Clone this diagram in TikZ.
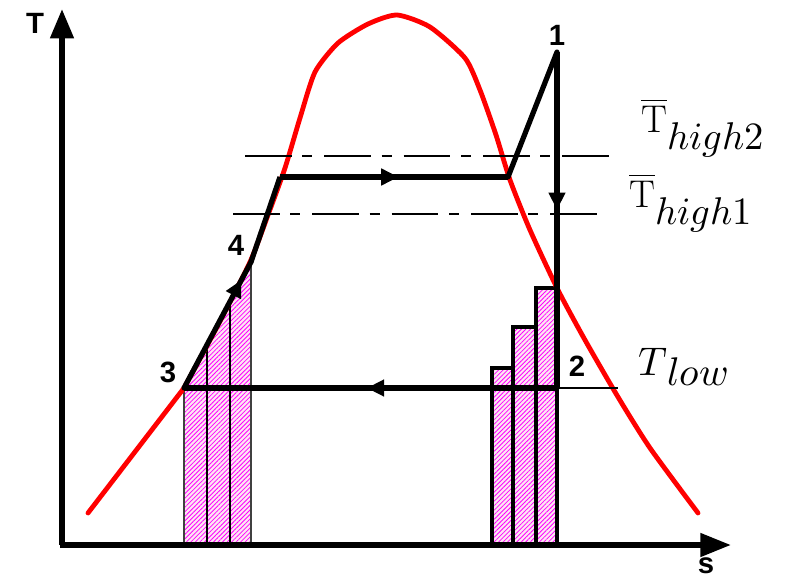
\documentclass[tikz,border=0pt]{standalone}
\usepackage{fontspec}
\usepackage{unicode-math}
\setmathfont{Latin Modern Math}
\setsansfont{Liberation Sans}
\usetikzlibrary{arrows.meta,decorations.markings,patterns.meta,calc}
\begin{document}
\begin{tikzpicture}[x=0.75pt,y=-0.75pt,
  thick line/.style={line width=3.9pt,black},
  redcurve/.style={line width=3.6pt,red,line cap=round,line join=round},
  dashdot line/.style={line width=1.9pt,black,dash pattern=on 35pt off 8pt on 7.5pt off 9pt},
  ptlabel/.style={font=\sffamily\bfseries\fontsize{22}{24}\selectfont,inner sep=0pt},
  midarrow/.style={postaction={decorate},decoration={markings,mark=at position #1 with {\arrow{Triangle[length=13pt,width=12pt]}}}}
]
\useasboundingbox (0,0) rectangle (790,579);
% coordinates
\coordinate (O) at (62,545);
\coordinate (Ox) at (60,545);
\coordinate (ytip) at (62,9);
\coordinate (xtip) at (731,545);
\coordinate (p1) at (557,52);
\coordinate (p2) at (557,388);
\coordinate (p3) at (184,388);
\coordinate (p4) at (251,262);
\coordinate (pa) at (280,177);
\coordinate (pb) at (508,177);
\coordinate (tl) at (618,388);
\coordinate (u1) at (245,156);
\coordinate (u2) at (618,156);
\coordinate (l1) at (233,214);
\coordinate (l2) at (606,214);
% hatched areas
\fill[magenta!10] (184,545) -- (p3) -- (p4) -- (251,545) -- cycle;
\fill[magenta!10] (492,545) -- (492,368) -- (513,368) -- (513,327) -- (536,327) -- (536,288) -- (558,288) -- (558,545) -- cycle;
\path[pattern={Lines[angle=45,distance=2.4pt,line width=0.6pt]},pattern color=magenta]
  (184,545) -- (p3) -- (p4) -- (251,545) -- cycle;
\path[pattern={Lines[angle=45,distance=2.4pt,line width=0.6pt]},pattern color=magenta]
  (492,545) -- (492,368) -- (513,368) -- (513,327) -- (536,327) -- (536,288) -- (558,288) -- (558,545) -- cycle;
% left bar outlines
\draw[line width=1.5pt,black!75] (184,545) -- (p3);
\draw[line width=1.5pt,black!75] (251,545) -- (p4);
\draw[line width=2.2pt] (207,545) -- (207,346);
\draw[line width=2.2pt] (230,545) -- (230,303);
% right bar outlines
\draw[line width=2.3pt] (492,545) rectangle (513,368);
\draw[line width=2.3pt] (513,545) rectangle (536,327);
\draw[line width=2.3pt] (536,545) rectangle (557,288);
\draw[line width=3pt] (p2) -- (557,545);
% red saturation curve
\draw[redcurve] (88,513) -- (184,388) plot[smooth,tension=0.4] coordinates {
 (184,388) (218,325) (250,262) (268,215) (285,168) (300,118) (315,72) (338,43) (368,24) (397,15) (430,27) (465,58) (480,90) (496,135) (510,180) (530,230) (558,290) (585,340) (618,397) (650,448) (698,513)};
% dash-dot lines
\draw[dashdot line] (u1) -- (u2);
\draw[dashdot line] (l1) -- (l2);
% axes
\draw[line width=4.2pt,-{Triangle[length=22pt,width=17pt]}] (O) -- (ytip);
\draw[line width=4.2pt,-{Triangle[length=23pt,width=17pt]}] (Ox) -- (xtip);
% cycle
\draw[thick line,line cap=round,line join=round,midarrow=0.86] (p3) -- (p4);
\draw[thick line,line join=round] (p4) -- (pa);
\draw[thick line,midarrow=0.52] (pa) -- (pb);
\draw[thick line,line cap=round,line join=round] (pb) -- (p1);
\draw[thick line,midarrow=0.47] (p1) -- (p2);
\draw[thick line,midarrow=0.51] (p2) -- (p3);
\draw[line width=1pt] (p2) -- (tl);
% labels
\node[ptlabel] (l1n) at (557,35) {1};
\node[ptlabel] (l2n) at (577,366) {2};
\node[ptlabel] (l3n) at (168,372) {3};
\node[ptlabel] (l4n) at (236,245) {4};
\node[ptlabel] (Tax) at (35,23) {T};
\node[ptlabel] (sax) at (706,566) {s};
\node[inner sep=0pt,anchor=base west,font=\fontsize{29}{32}\selectfont] (th2) at (641,132) {$\overline{\mathrm{T}}$\raisebox{-13pt}{$high2$}};
\node[inner sep=0pt,anchor=base west,font=\fontsize{29}{32}\selectfont] (th1) at (629,207) {$\overline{\mathrm{T}}$\raisebox{-13pt}{$high1$}};
\node[inner sep=0pt,anchor=base west,font=\fontsize{30}{33}\selectfont] (tlow) at (638,375) {$T$\raisebox{-8pt}{$low$}};
\end{tikzpicture}
\end{document}
